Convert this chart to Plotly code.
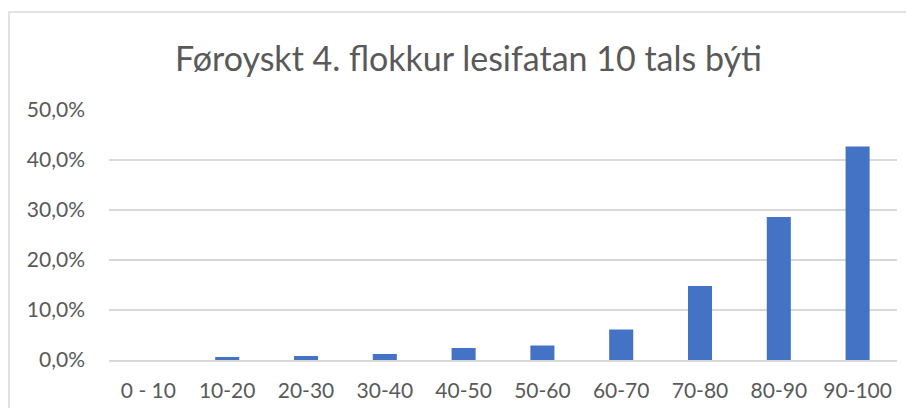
import plotly.graph_objects as go

categories = ["0 - 10", "10-20", "20-30", "30-40", "40-50", "50-60", "60-70", "70-80", "80-90", "90-100"]
values = [0.0, 0.006, 0.008, 0.012, 0.024, 0.029, 0.061, 0.148, 0.286, 0.427]
y_ticks = [0, 0.1, 0.2, 0.3, 0.4, 0.5]
y_tick_labels = ["0,0%", "10,0%", "20,0%", "30,0%", "40,0%", "50,0%"]
title_text = "Føroyskt 4. flokkur lesifatan 10 tals býti"

# page body has an 8px margin, so the figure is offset by 8px
OFF = 8
W, H = 898, 400
L, T = 109 - OFF, 110 - OFF
R = W - (897 - OFF)
B = H - (360 - OFF)
PW, PH = W - L - R, H - T - B

def px(x):
    return (x - OFF - L) / PW

def py(y):
    return (H - (y - OFF) - B) / PH

FONT = "Lato, Carlito, Calibri, sans-serif"

fig = go.Figure(go.Bar(x=categories, y=values, marker=dict(color="#4472C4", line=dict(width=0)), width=0.305))

fig.update_layout(
    width=W, height=H,
    margin=dict(l=L, r=R, t=T, b=B, autoexpand=False),
    paper_bgcolor="white", plot_bgcolor="white",
    font=dict(family=FONT, color="#595959", size=21),
    showlegend=False,
    xaxis=dict(showgrid=False, showline=True, linecolor="#D9D9D9", linewidth=1.5,
               ticks="", tickfont=dict(size=21, color="#595959"), ticklabelstandoff=11),
    yaxis=dict(range=[0, 0.5], tickvals=y_ticks, ticktext=y_tick_labels,
               showgrid=True, gridcolor="#D9D9D9", gridwidth=1.5, zeroline=False,
               showline=False, ticks="", tickfont=dict(size=21, color="#595959"), ticklabelstandoff=23),
    shapes=[dict(type="rect", xref="paper", yref="paper",
                 x0=px(9), x1=px(940), y0=py(440), y1=py(12),
                 line=dict(color="#D9D9D9", width=1.5), fillcolor="rgba(0,0,0,0)", layer="below")],
    annotations=[dict(text=title_text, xref="paper", yref="paper",
                      x=px(468), y=py(57),
                      xanchor="center", yanchor="middle", showarrow=False,
                      font=dict(size=34, color="#595959", family=FONT))],
)

fig.write_html("out.html")
